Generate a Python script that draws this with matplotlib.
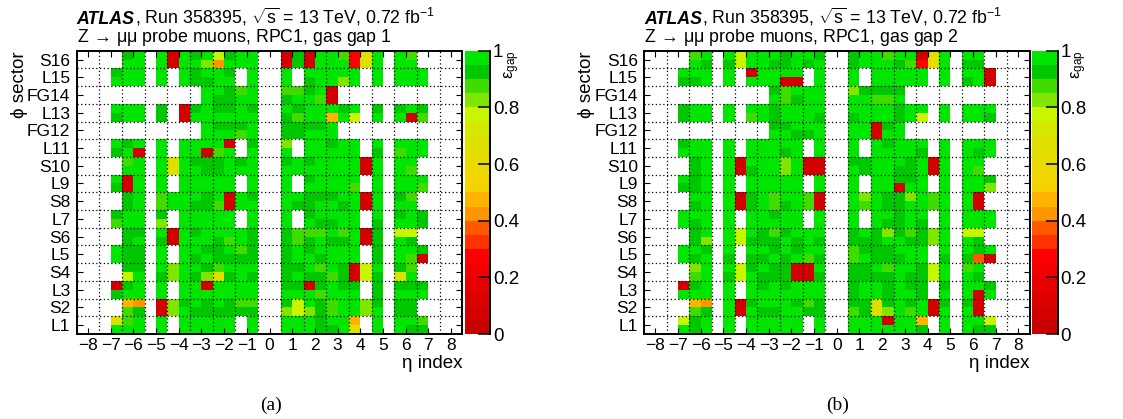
import numpy as np
import matplotlib
matplotlib.use('Agg')
import matplotlib.pyplot as plt
from matplotlib.colors import ListedColormap, BoundaryNorm

plt.rcParams['font.family'] = ['Liberation Sans', 'DejaVu Sans']
plt.rcParams['mathtext.fontset'] = 'custom'
plt.rcParams['mathtext.rm'] = 'Liberation Sans'
plt.rcParams['mathtext.it'] = 'Liberation Sans:italic'

eta_labels = [str(i).replace('-', '\u2212') for i in range(-8, 9)]
sector_labels = ['L1', 'S2', 'L3', 'S4', 'L5', 'S6', 'L7', 'S8',
                 'L9', 'S10', 'L11', 'FG12', 'L13', 'FG14', 'L15', 'S16']

# one character per cell ('.' = no data)
eff_code = {'G': 0.975, 'g': 0.925, 'l': 0.875, 'k': 0.825, 'y': 0.775,
            'Y': 0.665, 'o': 0.475, 'O': 0.425, 'E': 0.375, 'R': 0.275,
            'r': 0.06}

# rows from top (S16 upper half) to bottom (L1 lower half), 34 eta columns
gap1 = [
    "....gG.GrGgGygGG..rgrGGlRYG.Gl....",
    "....GG.GrGGkOGGG..rgrGGGRYG.GG....",
    "...gGG.G.GgGGg.G..G.GGGGG.G.GGG...",
    "...GGG.G.GggGG.G..G.gGGkG.G.GGG...",
    "...........GGglG..llgGr...........",
    "...........GggGG..gGGlr...........",
    "...GGG.g.rgGggGg..GgGGGgG.g.gGg...",
    "...gGG.g.rGGGGGG..glGGoGy.G.Grl...",
    "...........GgggG..ggggG...........",
    "...........GGGlG..ggGGG...........",
    "...GgG.G.GGGGr.g..k.GGgGG.G.GGG...",
    "...gGr.G.GGrlG.G..G.GGGGG.g.lGG...",
    "....lG.GYGgggGgG..gGgGGGGrG.GG....",
    "....GG.GYGGggGGG..GGGGGGGrG.Gl....",
    "...GrG.G.GGGGG.G..G.gGGGG.G.GGG...",
    "...grG.G.GGGGG.G..G.GGGGl.G.GGl...",
    "....gG.lGGGgGrGg..GGgggGGrG.gl....",
    "....gG.lGGgglrGG..GggGGgGrG.GG....",
    "...gGG.g.GGGGG.G..G.gGGGG.G.gGg...",
    "...lGG.k.GGGGG.G..G.GggGG.g.GGg...",
    "....gg.GrGgGGGGg..glllGlGrg.yy....",
    "....gG.grGGGglGg..glgGggGrg.Gg....",
    "...Ggg.G.GGggGlg..gGgGGGG.g.GGg...",
    "...Ggg.G.GgGgggg..gGGgGGG.g.Glr...",
    "....gg.GkGGglGGG..ggGlGgryG.gl....",
    "....yG.gkGgkYgGg..gGgglgryg.YG....",
    "...rgG.G.GGrGGGG..ggrgGgg.g.ggg...",
    "...gGG.G.GGGGGGG..GGGlGGG.g.GGG...",
    "....oO.rkgGgGgll..gyGglGGkg.gg....",
    "....lg.rkGgggggg..kykglGGkG.gg....",
    "...YlG.G.GGGGG.G..GGGgGGo.G.GGl...",
    "...GGG.G.GGGGG.G..GGGggGY.G.Ggg...",
]

gap2 = [
    "....lG.GyGGGgGGg..gGGlGGrYG.GG....",
    "....Gg.gyGGggGgG..gGGGglRYG.gg....",
    "...GGG.G.rGGGG.G..G.GGGGG.G.GGr...",
    "...ggG.G.GGGrr.G..G.GGGGG.G.gGr...",
    "...........glGGG..kgggg...........",
    "...........GlgGG..GGllG...........",
    "...gGG.G.GGgGGGG..GGGGgGG.G.GGG...",
    "...gGG.G.lGgGGGg..gGGGgGy.G.GGg...",
    "...........ggGGG..GGrgG...........",
    "...........GGggG..GGrGG...........",
    "...gGG.G.GGGGG.G..G.GgGGG.G.GGG...",
    "...GGG.G.GGGgG.G..G.GGGGg.G.GgG...",
    "....gG.GrGGGkGrr..ggGGGgGrG.GG....",
    "....gG.GrgGGkGrr..GgGGggGrG.Gl....",
    "...GgG.G.GGGGG.G..G.GGggG.G.GGg...",
    "...ggG.G.GGGGG.G..G.GGrGG.G.GGk...",
    "....GG.GrgGlGGlr..GkGggkGlG.Gr....",
    "....gG.GrgGlgGlr..GlGggGGlG.Gr....",
    "...GGG.G.GGgGG.G..G.GGgGG.G.GGG...",
    "...GgG.G.GGGGG.G..G.GggGg.G.GGG...",
    "....gG.GyGglgGGG..gGgkglgkG.yy....",
    "....gk.GygggGgGg..gggGGggkG.Gg....",
    "...GGg.G.GGgGgGG..lgggGGG.G.GgG...",
    "...GgG.g.ggGgGlg..lGgggGG.g.gEr...",
    "....kG.GygGggrrG..ggGlGGgyG.lG....",
    "....lG.gyGgggrrg..ggggGggyG.Gg....",
    "...rgG.G.GgGgGGG..gGGgGgg.g.GGg...",
    "...GGG.G.GGGGGGG..gGGgGGg.G.GrG...",
    "....oO.GrgGGGglg..ggYgGgGrg.gr....",
    "....lg.GrGggGGgg..lgYkGlGrG.Gr....",
    "...ygG.G.GGGGG.G..GGGrGGo.G.GGy...",
    "...GgG.G.GGGGG.G..GGGGGGg.G.Ggg...",
]

gap_names = ['gas gap 1', 'gas gap 2']
panel_tags = ['(a)', '(b)']

# palette of the z axis, 20 bands from 0 to 1
band_colors = ['#c80000', '#d20000', '#dc0000', '#e60000', '#f00000',
               '#ff0000', '#ff3200', '#ff5a00', '#ff9600', '#ffb400',
               '#f5d200', '#eed800', '#e6dc00', '#dde000', '#d4e800',
               '#c8f500', '#80e600', '#40dc00', '#00c800', '#00e600']
cmap = ListedColormap(band_colors)
bounds = np.linspace(0, 1, 21)
norm = BoundaryNorm(bounds, cmap.N)


def to_array(rows):
    z = np.array([[eff_code.get(ch, np.nan) for ch in row] for row in rows])
    return np.ma.masked_invalid(z[::-1])


W, H = 1123, 419
fig = plt.figure(figsize=(W / 100, H / 100), dpi=100)
renderer = fig.canvas.get_renderer()

x_edges = np.arange(-8.5, 8.51, 0.5)
y_edges = np.arange(0.5, 16.51, 0.5)
fs = 12.8

for k, rows in enumerate([gap1, gap2]):
    x0 = 76.7 + 567.3 * k
    ax = fig.add_axes([x0 / W, 85 / H, 385.6 / W, 283.3 / H])
    ax.pcolormesh(x_edges, y_edges, to_array(rows), cmap=cmap, norm=norm,
                  shading='flat', antialiased=False, zorder=1)
    ax.set_xlim(-8.5, 8.5)
    ax.set_ylim(0.5, 16.5)
    for xv in np.arange(-7.5, 7.6, 1):
        ax.axvline(xv, color='k', ls=(0, (1, 2)), lw=0.9, zorder=2)
    for yv in np.arange(1.5, 15.6, 1):
        ax.axhline(yv, color='k', ls=(0, (1, 2)), lw=0.9, zorder=2)
    ax.set_xticks(range(-8, 9))
    ax.set_xticklabels(eta_labels, fontsize=12.5)
    ax.set_yticks(range(1, 17))
    ax.set_yticklabels(sector_labels, fontsize=12.5)
    ax.tick_params(axis='x', direction='in', length=4, top=True, pad=3)
    ax.tick_params(axis='y', direction='in', length=4, right=True, pad=4.5)
    for s in ax.spines.values():
        s.set_linewidth(1.4)

    # colour scale
    cax = fig.add_axes([(x0 + 388) / W, 85 / H, 25.6 / W, 283.3 / H])
    centers = (bounds[:-1] + bounds[1:]) / 2
    cax.pcolormesh([0, 1], bounds, centers.reshape(-1, 1), cmap=cmap,
                   norm=norm, shading='flat', antialiased=False)
    cax.set_xlim(0, 1)
    cax.set_ylim(0, 1)
    cax.set_xticks([])
    cax.yaxis.tick_right()
    cax.set_yticks([0, 0.2, 0.4, 0.6, 0.8, 1])
    cax.set_yticklabels(['0', '0.2', '0.4', '0.6', '0.8', '1'], fontsize=13.5)
    cax.tick_params(axis='y', direction='in', length=8.5, width=1.1, pad=2)
    for side in ['left', 'top', 'bottom']:
        cax.spines[side].set_visible(False)
    cax.spines['right'].set_linewidth(1.4)
    fig.text((x0 + 435) / W, 1 - 51 / H, 'ε$_{\\mathrm{gap}}$', rotation=90,
             ha='center', va='top', fontsize=12)

    # header lines
    t = fig.text(x0 / W, 1 - 24 / H, 'ATLAS', fontsize=fs, fontweight='bold',
                 style='italic', va='baseline')
    bb = t.get_window_extent(renderer)
    fig.text(bb.x1 / W, 1 - 24 / H,
             ', Run 358395, $\\sqrt{\\mathrm{s}}$ = 13 TeV, 0.72 fb$^{-1}$',
             fontsize=fs, va='baseline')
    fig.text(x0 / W, 1 - 42 / H,
             'Z$\\,\\rightarrow\\,$\u03bc\u03bc probe muons, RPC1, ' + gap_names[k],
             fontsize=fs, va='baseline')

    fig.text((19 + 567.3 * k) / W, 1 - 51 / H, '\u03d5 sector', rotation=90,
             ha='center', va='top', fontsize=13.5)
    fig.text((x0 + 385.6) / W, 1 - 368 / H, '\u03b7 index', ha='right',
             va='baseline', fontsize=13.5)
    fig.text((x0 + 194) / W, 1 - 410 / H, panel_tags[k], ha='center',
             va='baseline', fontsize=14, family='Liberation Serif')

fig.savefig('out.png', dpi=100)
